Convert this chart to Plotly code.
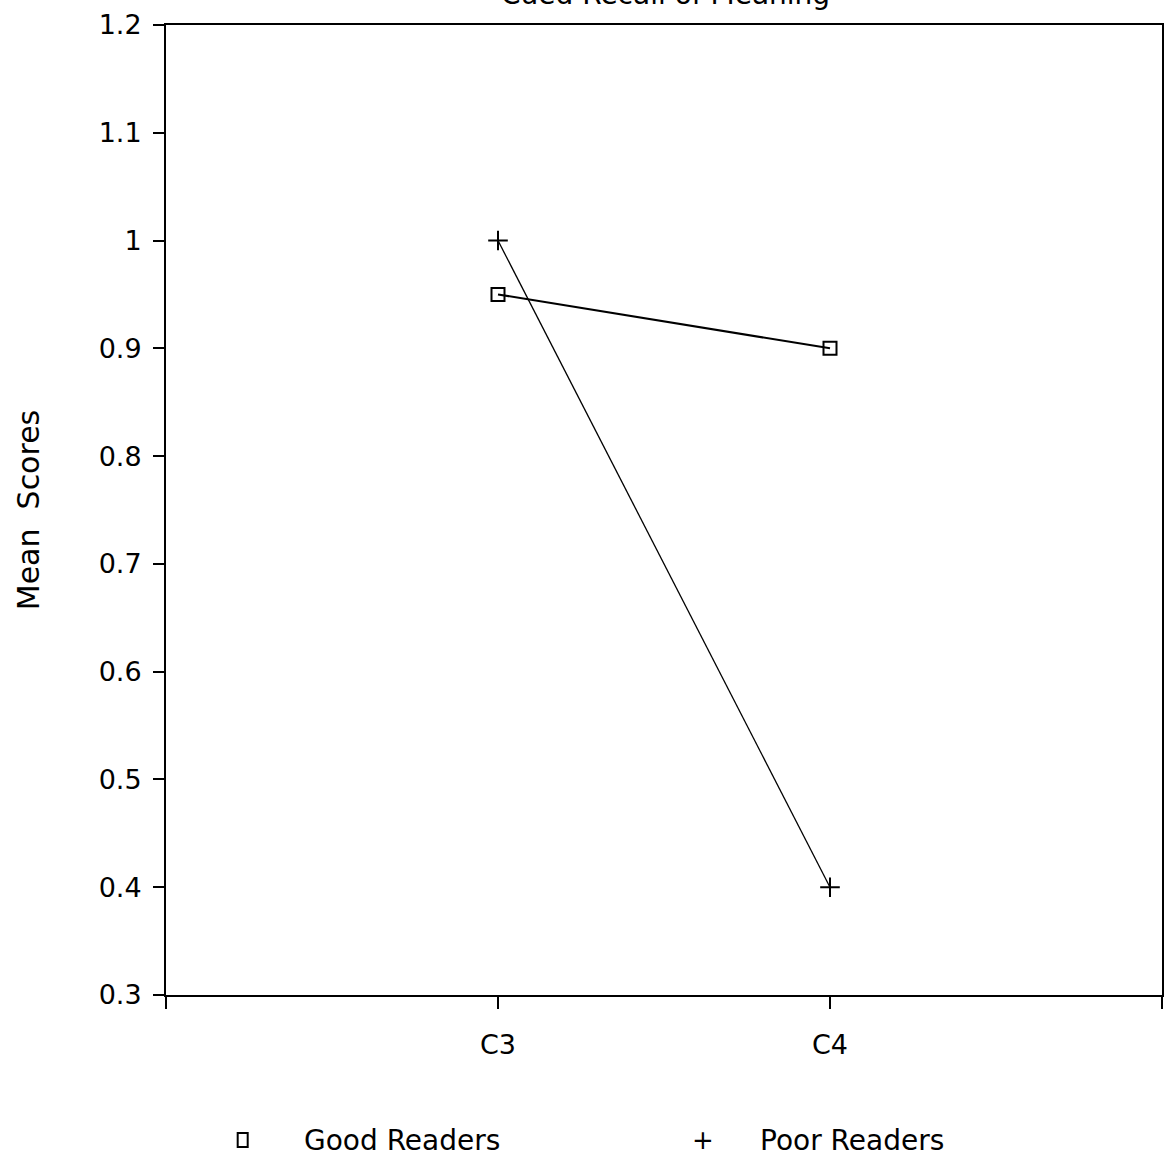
import plotly.graph_objects as go

categories = ["C3", "C4"]
good_readers = [0.95, 0.90]
poor_readers = [1.0, 0.4]
y_ticks = [0.3, 0.4, 0.5, 0.6, 0.7, 0.8, 0.9, 1.0, 1.1, 1.2]
title_text = "Cued Recall of Meaning"

FONT = "DejaVu Sans"
xs = list(range(len(categories)))

fig = go.Figure()
fig.add_trace(go.Scatter(
    x=xs, y=good_readers, mode="lines+markers", name="Good Readers",
    line=dict(color="black", width=2),
    marker=dict(symbol="square-open", size=13, color="black", line=dict(width=2, color="black")),
    showlegend=False,
))
fig.add_trace(go.Scatter(
    x=xs, y=poor_readers, mode="lines+markers", name="Poor Readers",
    line=dict(color="black", width=1.3),
    marker=dict(symbol="cross-thin-open", size=14, color="black", line=dict(width=2, color="black")),
    showlegend=False,
))

tickvals_x = [-1] + xs + [len(categories)]
ticktext_x = [""] + categories + [""]

LEG_Y = -0.1495

fig.update_layout(
    width=1166, height=1157,
    margin=dict(l=166, r=2, t=25, b=162),
    paper_bgcolor="white", plot_bgcolor="white",
    font=dict(family=FONT, color="black", size=27),
    xaxis=dict(
        range=[-1, len(categories)], tickvals=tickvals_x, ticktext=ticktext_x,
        showgrid=False, zeroline=False, showline=True, linecolor="black", linewidth=2,
        mirror=True, ticks="outside", ticklen=12, tickwidth=1.5, tickcolor="black",
        tickfont=dict(family=FONT, size=27), ticklabelstandoff=13,
    ),
    yaxis=dict(
        range=[min(y_ticks), max(y_ticks)], tickvals=y_ticks,
        ticktext=[f"{v:g}" for v in y_ticks],
        showgrid=False, zeroline=False, showline=True, linecolor="black", linewidth=2,
        mirror=True, ticks="outside", ticklen=11, tickwidth=1.5, tickcolor="black",
        tickfont=dict(family=FONT, size=27), ticklabelstandoff=6,
        title=dict(text="Mean  Scores", font=dict(family=FONT, size=30), standoff=50),
    ),
    shapes=[
        dict(type="rect", xref="paper", yref="paper", xsizemode="pixel", ysizemode="pixel",
             xanchor=0.077, yanchor=LEG_Y, x0=-5, x1=5, y0=-7, y1=7,
             line=dict(color="black", width=2), fillcolor="rgba(0,0,0,0)"),
    ],
    annotations=[
        dict(text=title_text, xref="paper", yref="paper", x=0.502, y=1, yanchor="bottom",
             yshift=12, showarrow=False, font=dict(family=FONT, size=28)),
        dict(text="Good Readers", xref="paper", yref="paper", x=0.137, y=LEG_Y, xanchor="left",
             yanchor="middle", showarrow=False, font=dict(family=FONT, size=28)),
        dict(text="+", xref="paper", yref="paper", x=0.539, y=LEG_Y, xanchor="center",
             yanchor="middle", showarrow=False, font=dict(family=FONT, size=26)),
        dict(text="Poor Readers", xref="paper", yref="paper", x=0.594, y=LEG_Y, xanchor="left",
             yanchor="middle", showarrow=False, font=dict(family=FONT, size=28)),
    ],
)

fig.write_html("out.html")
